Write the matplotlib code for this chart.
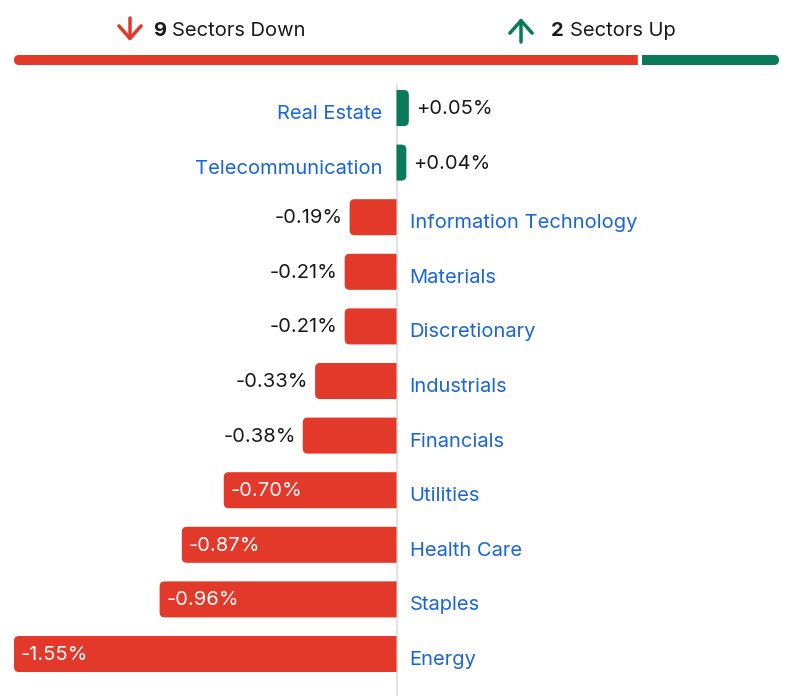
import matplotlib.pyplot as plt
from matplotlib.patches import PathPatch
from matplotlib.path import Path

plt.rcParams['font.family'] = ['Inter', 'DejaVu Sans']

# data
sectors = ["Real Estate", "Telecommunication", "Information Technology", "Materials",
           "Discretionary", "Industrials", "Financials", "Utilities", "Health Care",
           "Staples", "Energy"]
changes = [0.05, 0.04, -0.19, -0.21, -0.21, -0.33, -0.38, -0.70, -0.87, -0.96, -1.55]

RED = "#E3392A"
GREEN = "#0B7A5A"
BLUE = "#1A66D6"
DARK = "#1A1A1A"
FS = 14.5

W, H = 790, 696
fig = plt.figure(figsize=(W / 100, H / 100), dpi=100)


def fx(px):
    return px / W


def fy(py):
    return 1 - py / H


def rbar(ax, x0, x1, yc, h, r_px, color, round_left, round_right):
    # bar with rounded corners only on the chosen ends
    p0 = ax.transData.transform((0, 0))
    p1 = ax.transData.transform((1, 1))
    sx = abs(p1[0] - p0[0])
    sy = abs(p1[1] - p0[1])
    w = x1 - x0
    rpx = min(r_px, w * sx / 2, h * sy / 2)
    rx, ry = rpx / sx, rpx / sy
    y0, y1 = yc - h / 2, yc + h / 2
    lx = rx if round_left else 0
    lr = rx if round_right else 0
    ly = ry if round_left else 0
    ry2 = ry if round_right else 0
    verts = [(x0 + lx, y0), (x1 - lr, y0), (x1, y0), (x1, y0 + ry2),
             (x1, y1 - ry2), (x1, y1), (x1 - lr, y1),
             (x0 + lx, y1), (x0, y1), (x0, y1 - ly),
             (x0, y0 + ly), (x0, y0), (x0 + lx, y0), (x0 + lx, y0)]
    codes = [Path.MOVETO, Path.LINETO, Path.CURVE3, Path.CURVE3,
             Path.LINETO, Path.CURVE3, Path.CURVE3,
             Path.LINETO, Path.CURVE3, Path.CURVE3,
             Path.LINETO, Path.CURVE3, Path.CURVE3, Path.CLOSEPOLY]
    ax.add_patch(PathPatch(Path(verts, codes), fc=color, ec='none', lw=0))


# main bars
top_px, bot_px = 80.7, 681.3
ax = fig.add_axes([fx(14), fy(bot_px), fx(765), (bot_px - top_px) / H])
lim = max(abs(v) for v in changes)
ax.set_xlim(-lim, lim)
ax.set_ylim(len(sectors) - 0.5, -0.5)
ax.axis('off')

ax.axvline(0, ymin=-0.03, ymax=0.993, color="#dddddd", lw=1.2, clip_on=False, zorder=0)

bh = 0.66
for i, (name, v) in enumerate(zip(sectors, changes)):
    lbl = f"{v:+.2f}%"
    if v >= 0:
        rbar(ax, 0, v, i, bh, 5, GREEN, False, True)
        ax.annotate(lbl, (v, i), xytext=(7, -1), textcoords='offset pixels',
                    ha='left', va='center', fontsize=FS, color=DARK)
        ax.annotate(name, (0, i), xytext=(-14, -6), textcoords='offset pixels',
                    ha='right', va='center', fontsize=FS, color=BLUE)
    else:
        rbar(ax, v, 0, i, bh, 5, RED, True, False)
        if v <= -0.5:
            ax.annotate(lbl, (v, i), xytext=(7, -1), textcoords='offset pixels',
                        ha='left', va='center', fontsize=FS, color='white')
        else:
            ax.annotate(lbl, (v, i), xytext=(-7, -1), textcoords='offset pixels',
                        ha='right', va='center', fontsize=FS, color=DARK)
        ax.annotate(name, (0, i), xytext=(13, -6), textcoords='offset pixels',
                    ha='left', va='center', fontsize=FS, color=BLUE)

# header summary bar
n_down = sum(1 for v in changes if v < 0)
n_up = sum(1 for v in changes if v > 0)
hax = fig.add_axes([fx(14), fy(65), fx(765), 10 / H])
hax.set_xlim(0, n_down + n_up)
hax.set_ylim(0, 1)
hax.axis('off')
gap = 0.03
rbar(hax, 0, n_down - gap, 0.5, 1, 5, RED, True, False)
rbar(hax, n_down + gap, n_down + n_up, 0.5, 1, 5, GREEN, False, True)

# header text + arrows
fig.text(fx(153), fy(31), str(n_down), fontsize=FS, fontweight='bold', color=DARK, va='center')
fig.text(fx(172), fy(31), "Sectors Down", fontsize=FS, color=DARK, va='center')
fig.text(fx(551), fy(31), str(n_up), fontsize=FS, fontweight='bold', color=DARK, va='center')
fig.text(fx(570), fy(31), "Sectors Up", fontsize=FS, color=DARK, va='center')

hax.annotate('', xy=(130, H - 41), xytext=(130, H - 18), xycoords='figure pixels',
             textcoords='figure pixels',
             arrowprops=dict(arrowstyle='->,head_length=0.45,head_width=0.4', lw=2.5,
                             color=RED, mutation_scale=20, shrinkA=0, shrinkB=0))
hax.annotate('', xy=(521, H - 18), xytext=(521, H - 42), xycoords='figure pixels',
             textcoords='figure pixels',
             arrowprops=dict(arrowstyle='->,head_length=0.45,head_width=0.4', lw=2.5,
                             color=GREEN, mutation_scale=20, shrinkA=0, shrinkB=0))

fig.savefig("out.png", dpi=100, facecolor='white')
